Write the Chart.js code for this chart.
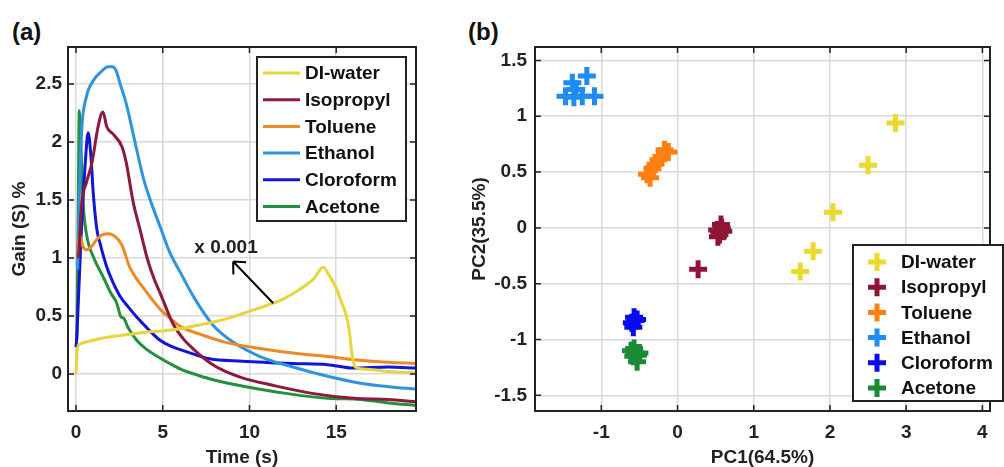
<!DOCTYPE html>
<html>
<head>
<meta charset="utf-8">
<script src="https://cdn.jsdelivr.net/npm/chart.js@4.4.0/dist/chart.umd.min.js"></script>
<style>
  body { margin: 0; background: #fff; }
  #wrap { position: relative; width: 1004px; height: 467px; }
  canvas { position: absolute; top: 0; }
  .tag { position: absolute; top: 18px; font: bold 24px "Liberation Sans", Arial, sans-serif; color: #111; }
</style>
</head>
<body>
<div id="wrap">
  <div class="tag" style="left:12px">(a)</div>
  <div class="tag" style="left:468px">(b)</div>
  <canvas id="gainChart" width="440" height="467" style="left:0"></canvas>
  <canvas id="pcaChart" width="564" height="467" style="left:440px"></canvas>
</div>
<script>
const FONT = "'Liberation Sans', Arial, sans-serif";
const INK = "#222";

//-----------------------------------------------------
// (a) Gain vs time
//-----------------------------------------------------
const timeTicks = [0, 5, 10, 15];
const gainTicks = [0, 0.5, 1, 1.5, 2, 2.5];

const diWaterT    = [0, 0.08, 0.25, 1, 2, 3, 4, 5, 6, 7, 8, 9, 10, 11, 12, 13, 13.7, 14.25, 14.6, 15.0, 15.3, 15.55, 15.75, 15.9, 16.1, 16.8, 18, 19.6];
const diWaterGain = [0, 0.22, 0.26, 0.29, 0.32, 0.34, 0.36, 0.37, 0.39, 0.42, 0.45, 0.49, 0.54, 0.59, 0.65, 0.74, 0.82, 0.92, 0.85, 0.74, 0.62, 0.52, 0.38, 0.18, 0.06, 0.04, 0.02, 0.01];

const isopropylT    = [0.15, 0.33, 0.6, 0.92, 1.27, 1.55, 1.78, 2.13, 2.65, 2.9, 3.3, 3.7, 4.1, 4.5, 4.9, 5.6, 6.2, 6.8, 7.5, 8.1, 9.5, 11.4, 13.7, 16, 18, 19.6];
const isopropylGain = [1.0, 1.47, 1.65, 1.82, 2.13, 2.26, 2.13, 2.07, 1.96, 1.82, 1.48, 1.24, 1.0, 0.82, 0.68, 0.43, 0.3, 0.21, 0.12, 0.06, -0.03, -0.1, -0.17, -0.21, -0.22, -0.24];

const tolueneT    = [0.12, 0.2, 0.4, 0.6, 0.9, 1.2, 1.5, 1.9, 2.3, 2.65, 3.1, 3.5, 3.9, 4.4, 4.9, 5.5, 6.0, 7.2, 8.7, 10.6, 12.5, 14.5, 16.2, 18, 19.6];
const tolueneGain = [1.05, 1.2, 1.1, 1.07, 1.1, 1.16, 1.2, 1.21, 1.18, 1.11, 0.92, 0.82, 0.74, 0.64, 0.55, 0.47, 0.41, 0.34, 0.27, 0.22, 0.18, 0.15, 0.12, 0.1, 0.09];

const ethanolT    = [0.1, 0.17, 0.33, 0.6, 1.0, 1.4, 1.85, 2.1, 2.3, 2.55, 2.9, 3.4, 3.9, 4.4, 4.9, 5.4, 6.0, 6.8, 7.9, 9.1, 10.6, 12.5, 14.5, 16.4, 18, 19.6];
const ethanolGain = [0.9, 1.41, 2.1, 2.39, 2.53, 2.6, 2.65, 2.65, 2.62, 2.5, 2.33, 2.0, 1.68, 1.45, 1.25, 1.05, 0.88, 0.66, 0.42, 0.27, 0.15, 0.06, -0.02, -0.08, -0.11, -0.13];

const cloroformT    = [0, 0.03, 0.06, 0.3, 0.55, 0.7, 0.85, 1.0, 1.2, 1.4, 1.78, 2.1, 2.54, 3.0, 3.5, 4.2, 4.85, 5.6, 6.4, 7.7, 9.6, 12.5, 14.5, 16, 18, 19.6];
const cloroformGain = [0.23, 0.28, 0.36, 1.2, 1.85, 2.08, 1.9, 1.55, 1.25, 1.12, 0.92, 0.8, 0.67, 0.58, 0.49, 0.38, 0.29, 0.23, 0.19, 0.13, 0.11, 0.09, 0.08, 0.05, 0.06, 0.05];

const acetoneT    = [0.05, 0.12, 0.19, 0.3, 0.4, 0.6, 1.0, 1.56, 2.0, 2.35, 2.6, 2.75, 3.0, 3.5, 4.0, 4.7, 5.4, 6.2, 7.0, 7.9, 9.8, 12.2, 14.5, 16.4, 18, 19.6];
const acetoneGain = [0.3, 1.2, 2.27, 1.9, 1.5, 1.21, 1.01, 0.84, 0.7, 0.61, 0.49, 0.48, 0.4, 0.29, 0.22, 0.15, 0.09, 0.03, -0.01, -0.05, -0.11, -0.17, -0.21, -0.22, -0.25, -0.27];

//-----------------------------------------------------
// (b) PCA scores
//-----------------------------------------------------
const pc1Ticks = [-1, 0, 1, 2, 3, 4];
const pc2Ticks = [-1.5, -1, -0.5, 0, 0.5, 1, 1.5];

const diWaterPC1 = [1.61, 1.78, 2.04, 2.50, 2.86];
const diWaterPC2 = [-0.39, -0.21, 0.14, 0.56, 0.94];
const isopropylPC1 = [0.27, 0.52, 0.55, 0.58, 0.60, 0.57, 0.53];
const isopropylPC2 = [-0.37, -0.02, -0.06, 0.0, -0.03, 0.03, -0.08];
const toluenePC1 = [-0.40, -0.36, -0.33, -0.29, -0.25, -0.21, -0.17, -0.12];
const toluenePC2 = [0.48, 0.45, 0.53, 0.57, 0.61, 0.64, 0.70, 0.68];
const ethanolPC1 = [-1.47, -1.36, -1.25, -1.09, -1.38, -1.33, -1.19];
const ethanolPC2 = [1.18, 1.17, 1.18, 1.18, 1.30, 1.24, 1.36];
const cloroformPC1 = [-0.60, -0.57, -0.55, -0.53, -0.58];
const cloroformPC2 = [-0.85, -0.80, -0.83, -0.82, -0.89];
const acetonePC1 = [-0.61, -0.56, -0.50, -0.58, -0.53, -0.57, -0.52];
const acetonePC2 = [-1.10, -1.12, -1.12, -1.15, -1.20, -1.08, -1.14];

const pts = (xs, ys) => xs.map((x, i) => ({ x, y: ys[i] }));

//-----------------------------------------------------
// frame, inward ticks, boxed legend, arrow note
//-----------------------------------------------------
const framePlugin = {
  id: "frame",
  afterDraw(chart, args, opts) {
    const { ctx, chartArea: a, scales } = chart;
    ctx.save();
    ctx.strokeStyle = INK;
    ctx.lineWidth = 1.5;
    ctx.beginPath();
    scales.x.ticks.forEach((t) => {
      const px = scales.x.getPixelForValue(t.value);
      ctx.moveTo(px, a.bottom); ctx.lineTo(px, a.bottom - 6);
      ctx.moveTo(px, a.top); ctx.lineTo(px, a.top + 6);
    });
    scales.y.ticks.forEach((t) => {
      const py = scales.y.getPixelForValue(t.value);
      ctx.moveTo(a.left, py); ctx.lineTo(a.left + 6, py);
      ctx.moveTo(a.right, py); ctx.lineTo(a.right - 6, py);
    });
    ctx.stroke();
    ctx.lineWidth = 2;
    ctx.strokeRect(a.left, a.top, a.right - a.left, a.bottom - a.top);

    // note with arrow
    const n = opts.note;
    if (n) {
      const x0 = scales.x.getPixelForValue(n.from[0]), y0 = scales.y.getPixelForValue(n.from[1]);
      const x1 = scales.x.getPixelForValue(n.to[0]), y1 = scales.y.getPixelForValue(n.to[1]);
      const ang = Math.atan2(y1 - y0, x1 - x0);
      ctx.strokeStyle = "#000";
      ctx.lineWidth = 2;
      ctx.beginPath();
      ctx.moveTo(x0, y0); ctx.lineTo(x1, y1);
      [-0.75, 0.75].forEach((d) => {
        ctx.moveTo(x1, y1);
        ctx.lineTo(x1 - 13 * Math.cos(ang + d), y1 - 13 * Math.sin(ang + d));
      });
      ctx.stroke();
      ctx.fillStyle = INK;
      ctx.font = `bold 19px ${FONT}`;
      ctx.textAlign = "center";
      ctx.textBaseline = "middle";
      ctx.fillText(n.text, scales.x.getPixelForValue(n.at[0]), scales.y.getPixelForValue(n.at[1]));
    }

    // legend box
    const L = opts.legend;
    ctx.fillStyle = "#fff";
    ctx.fillRect(L.x, L.y, L.w, L.h);
    ctx.strokeStyle = INK;
    ctx.lineWidth = 2;
    ctx.strokeRect(L.x, L.y, L.w, L.h);
    ctx.font = `bold 19px ${FONT}`;
    ctx.textAlign = "left";
    ctx.textBaseline = "middle";
    chart.data.datasets.forEach((ds, i) => {
      const y = L.y + L.first + i * L.step;
      ctx.strokeStyle = ds.borderColor;
      ctx.beginPath();
      if (L.marker === "line") {
        ctx.lineWidth = 3;
        ctx.moveTo(L.x + 6, y); ctx.lineTo(L.x + 43, y);
      } else {
        ctx.lineWidth = 5;
        ctx.moveTo(L.x + L.mark - 9, y); ctx.lineTo(L.x + L.mark + 9, y);
        ctx.moveTo(L.x + L.mark, y - 9); ctx.lineTo(L.x + L.mark, y + 9);
      }
      ctx.stroke();
      ctx.fillStyle = "#111";
      ctx.fillText(ds.label, L.x + L.text, y + 1);
    });
    ctx.restore();
  }
};

function axis(min, max, ticks, title, size, pad) {
  return {
    type: "linear",
    min: min,
    max: max,
    afterBuildTicks: (s) => { s.ticks = ticks.map((v) => ({ value: v })); },
    afterFit: (s) => { if (s.isHorizontal()) s.height = size; else s.width = size; },
    grid: { color: "#d9d9d9", lineWidth: 1.5, drawTicks: false },
    border: { display: false },
    ticks: {
      color: INK,
      padding: pad,
      autoSkip: false,
      maxRotation: 0,
      font: { family: FONT, size: 19, weight: "bold" },
      callback: (v) => String(v),
    },
    title: {
      display: true,
      text: title,
      color: INK,
      padding: 0,
      font: { family: FONT, size: 19, weight: "bold", lineHeight: 1 },
    },
  };
}

const lineSet = (label, color, t, g) => ({
  label: label,
  data: pts(t, g),
  borderColor: color,
  borderWidth: 3,
  pointRadius: 0,
  cubicInterpolationMode: "monotone",
  fill: false,
});

new Chart(document.getElementById("gainChart"), {
  type: "line",
  data: {
    datasets: [
      lineSet("DI-water", "#E6D63C", diWaterT, diWaterGain),
      lineSet("Isopropyl", "#8C1A3C", isopropylT, isopropylGain),
      lineSet("Toluene", "#EE8A25", tolueneT, tolueneGain),
      lineSet("Ethanol", "#2F94DE", ethanolT, ethanolGain),
      lineSet("Cloroform", "#1414D6", cloroformT, cloroformGain),
      lineSet("Acetone", "#23903F", acetoneT, acetoneGain),
    ],
  },
  options: {
    responsive: false,
    animation: false,
    events: [],
    layout: { padding: { left: 10, top: 47, right: 24, bottom: 0 } },
    scales: {
      x: axis(-0.46, 19.6, timeTicks, "Time (s)", 56, 10),
      y: axis(-0.32, 2.82, gainTicks, "Gain (S) %", 58, 6),
    },
    plugins: {
      legend: { display: false },
      tooltip: { enabled: false },
      frame: {
        legend: { x: 257, y: 57, w: 149, h: 164, first: 16, step: 26.7, marker: "line", text: 48 },
        note: { text: "x 0.001", at: [8.65, 1.09], from: [11.37, 0.61], to: [9.06, 0.97] },
      },
    },
  },
  plugins: [framePlugin],
});

const crossSet = (label, color, xs, ys) => ({
  label: label,
  data: pts(xs, ys),
  borderColor: color,
  backgroundColor: color,
  pointStyle: "cross",
  pointRadius: 9,
  pointBorderWidth: 5,
  showLine: false,
});

new Chart(document.getElementById("pcaChart"), {
  type: "scatter",
  data: {
    datasets: [
      crossSet("DI-water", "#EBD92E", diWaterPC1, diWaterPC2),
      crossSet("Isopropyl", "#8E1538", isopropylPC1, isopropylPC2),
      crossSet("Toluene", "#FF8010", toluenePC1, toluenePC2),
      crossSet("Ethanol", "#1E8CF2", ethanolPC1, ethanolPC2),
      crossSet("Cloroform", "#0A0AF0", cloroformPC1, cloroformPC2),
      crossSet("Acetone", "#1A8A35", acetonePC1, acetonePC2),
    ],
  },
  options: {
    responsive: false,
    animation: false,
    events: [],
    layout: { padding: { left: 30, top: 47, right: 2, bottom: 0 } },
    scales: {
      x: axis(-1.87, 4.1, pc1Ticks, "PC1(64.5%)", 56, 10),
      y: axis(-1.64, 1.62, pc2Ticks, "PC2(35.5%)", 65, 8),
    },
    plugins: {
      legend: { display: false },
      tooltip: { enabled: false },
      frame: {
        legend: { x: 413, y: 245, w: 150, h: 156, first: 17, step: 25.2, marker: "cross", mark: 24, text: 48 },
      },
    },
  },
  plugins: [framePlugin],
});
</script>
</body>
</html>
